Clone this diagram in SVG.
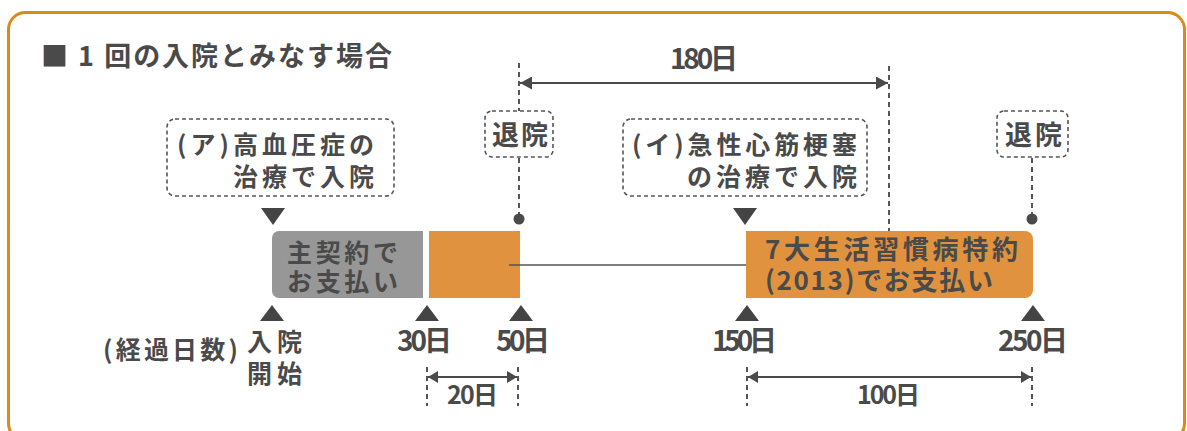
<svg xmlns="http://www.w3.org/2000/svg" width="1187" height="431" viewBox="0 0 1187 431">
<style>
text{font-family:"Noto Sans CJK JP","Noto Sans",sans-serif;fill:#4a4a4a;font-weight:700}
.t{font-size:25px}
.n{font-size:28px}
.dbox{fill:#fff;stroke:#555;stroke-width:1.6;stroke-dasharray:4 3}
.dash{stroke:#555;stroke-width:2;stroke-dasharray:5 4;fill:none}
.arr{stroke:#4a4a4a;stroke-width:2;fill:none}
.tri{fill:#444}
.dot{fill:#4a4a4a}
.or{fill:#E0923F}
</style>
<defs>
<marker id="ah" markerUnits="userSpaceOnUse" markerWidth="12" markerHeight="13" refX="12" refY="6.5" orient="auto-start-reverse">
<path d="M0,0 L12,6.5 L0,13 Z" fill="#4a4a4a"/>
</marker>
<marker id="ahs" markerUnits="userSpaceOnUse" markerWidth="10" markerHeight="12" refX="10" refY="6" orient="auto-start-reverse">
<path d="M0,0 L10,6 L0,12 Z" fill="#4a4a4a"/>
</marker>
</defs>

<rect id="frame" x="8.5" y="12.5" width="1176" height="428" rx="17" fill="#fff" stroke="#DA8A1A" stroke-width="3"/>

<g id="title">
<text x="41" y="66" font-size="27" textLength="351" lengthAdjust="spacing">■ 1 回の入院とみなす場合</text>
</g>

<g id="connectors">
<line class="dash" x1="519" y1="63" x2="519" y2="111"/>
<line class="dash" x1="519" y1="158" x2="519" y2="214"/>
<line class="dash" x1="889" y1="66" x2="889" y2="231"/>
<line class="dash" x1="1032" y1="158" x2="1032" y2="214"/>
<line class="arr" x1="520" y1="83" x2="888" y2="83" marker-start="url(#ah)" marker-end="url(#ah)"/>
<line class="dash" x1="427" y1="367" x2="427" y2="406"/>
<line class="dash" x1="518" y1="367" x2="518" y2="406"/>
<line class="arr" x1="428" y1="377" x2="517" y2="377" marker-start="url(#ahs)" marker-end="url(#ahs)"/>
<line class="dash" x1="747" y1="367" x2="747" y2="406"/>
<line class="dash" x1="1032" y1="367" x2="1032" y2="406"/>
<line class="arr" x1="748" y1="377" x2="1031" y2="377" marker-start="url(#ahs)" marker-end="url(#ahs)"/>
<circle class="dot" cx="519" cy="219" r="5.5"/>
<circle class="dot" cx="1032" cy="219" r="5.5"/>
<polygon class="tri" points="261,208 285,208 273,225"/>
<polygon class="tri" points="733,208 757,208 745,225"/>
<polygon class="tri" points="272,305 284,321 260,321"/>
<polygon class="tri" points="427,305 439,321 415,321"/>
<polygon class="tri" points="521,305 533,321 509,321"/>
<polygon class="tri" points="747,305 759,321 735,321"/>
<polygon class="tri" points="1033,305 1045,321 1021,321"/>
</g>

<g id="label-180">
<text class="n" x="670" y="69" textLength="68" lengthAdjust="spacing">180日</text>
</g>

<g id="note-a">
<rect class="dbox" x="167" y="119" width="227" height="77" rx="8"/>
<text class="t" x="177" y="154" textLength="197" lengthAdjust="spacing">(ア)高血圧症の</text>
<text class="t" x="233" y="186" textLength="141" lengthAdjust="spacing">治療で入院</text>
</g>

<g id="discharge-1">
<rect class="dbox" x="485" y="111" width="68" height="46" rx="7"/>
<text x="492" y="145" font-size="27" textLength="56" lengthAdjust="spacing">退院</text>
</g>

<g id="note-i">
<rect class="dbox" x="623" y="119" width="244" height="77" rx="8"/>
<text class="t" x="632" y="154" textLength="225" lengthAdjust="spacing">(イ)急性心筋梗塞</text>
<text class="t" x="687" y="186" textLength="170" lengthAdjust="spacing">の治療で入院</text>
</g>

<g id="discharge-2">
<rect class="dbox" x="997" y="111" width="71" height="46" rx="7"/>
<text x="1005" y="145" font-size="27" textLength="57" lengthAdjust="spacing">退院</text>
</g>

<g id="main-contract">
<path d="M279,231 H423 V298 H279 A7,7 0 0 1 272,291 V238 A7,7 0 0 1 279,231 Z" fill="#979797"/>
<text class="t" x="287" y="262" textLength="111" lengthAdjust="spacing">主契約で</text>
<text class="t" x="287" y="291" textLength="111" lengthAdjust="spacing">お支払い</text>
</g>

<g id="extension">
<rect class="or" x="429" y="231" width="91" height="67"/>
</g>

<g id="link">
<line x1="509" y1="265" x2="747" y2="265" stroke="#555" stroke-width="1.3"/>
</g>

<g id="rider">
<path d="M746,231 H1025 A8,8 0 0 1 1033,239 V290 A8,8 0 0 1 1025,298 H746 Z" class="or"/>
<text x="765" y="259" font-size="26" textLength="253" lengthAdjust="spacing">7大生活習慣病特約</text>
<text x="765" y="290" font-size="26" textLength="228" lengthAdjust="spacing">(2013)でお支払い</text>
</g>

<g id="axis-labels">
<text class="t" x="103" y="359" textLength="135" lengthAdjust="spacing">(経過日数)</text>
<text class="t" x="247" y="351" textLength="55" lengthAdjust="spacing">入院</text>
<text class="t" x="247" y="383" textLength="55" lengthAdjust="spacing">開始</text>
<text class="n" x="397" y="351" textLength="55" lengthAdjust="spacing">30日</text>
<text class="n" x="496" y="351" textLength="54" lengthAdjust="spacing">50日</text>
<text class="n" x="712" y="351" textLength="65" lengthAdjust="spacing">150日</text>
<text class="n" x="998" y="351" textLength="70" lengthAdjust="spacing">250日</text>
<text x="447" y="404" font-size="25" textLength="51" lengthAdjust="spacing">20日</text>
<text x="857" y="404" font-size="25" textLength="63" lengthAdjust="spacing">100日</text>
</g>
</svg>
